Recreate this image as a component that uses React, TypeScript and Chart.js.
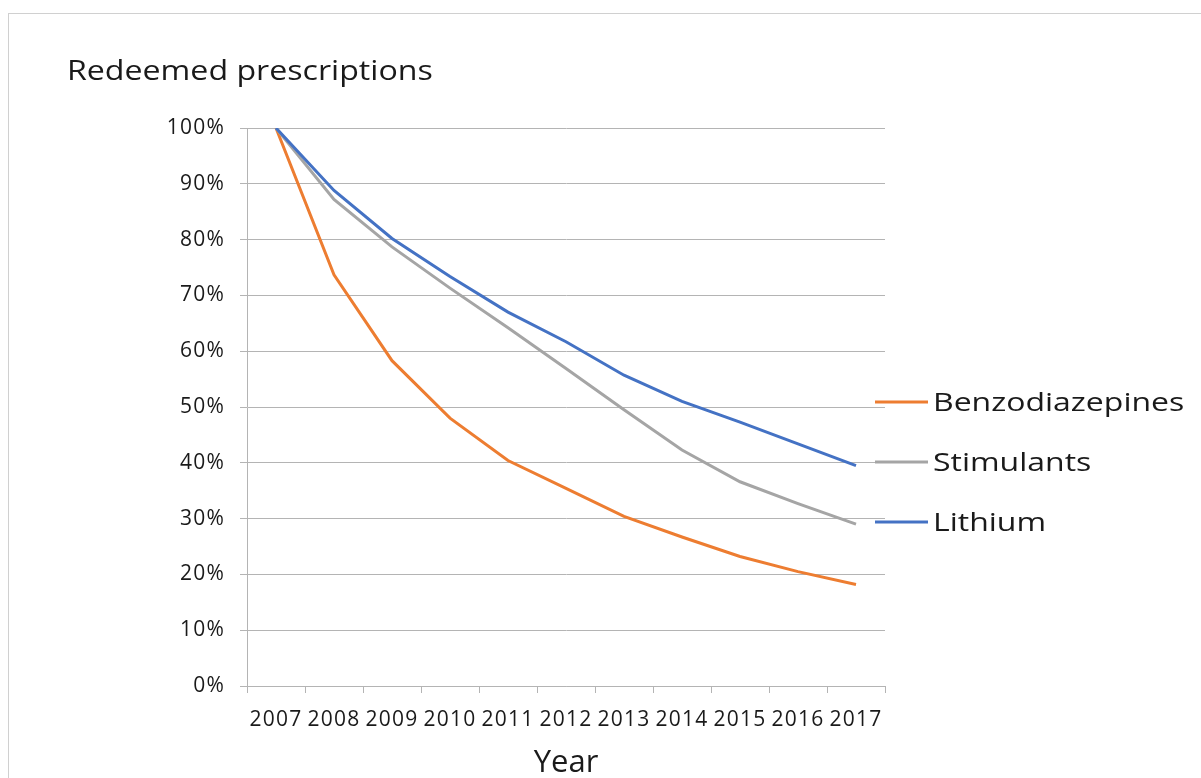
import React, { useEffect, useRef } from "react";
import { Chart, registerables } from "chart.js";

Chart.register(...registerables);

const years = ["2007", "2008", "2009", "2010", "2011", "2012", "2013", "2014", "2015", "2016", "2017"];
const benzodiazepines = [100, 73.7, 58.3, 48.0, 40.4, 35.4, 30.4, 26.7, 23.2, 20.5, 18.2];
const stimulants = [100, 87.2, 78.7, 71.3, 64.2, 56.9, 49.5, 42.3, 36.6, 32.7, 29.0];
const lithium = [100, 88.8, 80.2, 73.4, 67.0, 61.7, 55.7, 51.0, 47.3, 43.4, 39.5];
const seriesNames = ["Benzodiazepines", "Stimulants", "Lithium"];
const seriesColors = ["#ED7D31", "#A5A5A5", "#4472C4"];
const chartTitle = "Redeemed prescriptions";
const xTitle = "Year";

const FONT = "'Open Sans', sans-serif";
const GRID = "#b4b4b4";
const TEXT = "#1a1a1a";

function stretchedText(ctx: any, text: string, x: number, y: number, sx: number) {
  ctx.save();
  ctx.translate(x, y);
  ctx.scale(sx, 1);
  ctx.fillText(text, 0, 0);
  ctx.restore();
}

const sideLegend = {
  id: "sideLegend",
  beforeDraw(chart: any) {
    chart.ctx.letterSpacing = "1.2px";
  },
  afterDraw(chart: any) {
    const ctx = chart.ctx;
    ctx.save();
    ctx.letterSpacing = "0px";
    ctx.fillStyle = TEXT;
    ctx.textBaseline = "alphabetic";
    ctx.textAlign = "left";
    // chart title
    ctx.font = `27px ${FONT}`;
    stretchedText(ctx, chartTitle, 67, 80, 1.19);
    // x axis title
    ctx.font = `31px ${FONT}`;
    ctx.textAlign = "center";
    const xs = chart.scales.x;
    ctx.fillText(xTitle, (xs.left + xs.right) / 2, 772);
    // legend
    ctx.textAlign = "left";
    const rows = [402, 462, 522];
    chart.data.datasets.forEach((ds: any, i: number) => {
      const y = rows[i];
      ctx.strokeStyle = ds.borderColor;
      ctx.lineWidth = 3;
      ctx.beginPath();
      ctx.moveTo(875, y);
      ctx.lineTo(928, y);
      ctx.stroke();
      ctx.fillStyle = TEXT;
      ctx.font = `26px ${FONT}`;
      stretchedText(ctx, ds.label, 933, y + 9, 1.23);
    });
    ctx.restore();
    ctx.letterSpacing = "0px";
  },
};

export default function App() {
  const ref = useRef<HTMLCanvasElement | null>(null);
  useEffect(() => {
    if (!ref.current) return;
    const data = [benzodiazepines, stimulants, lithium];
    const chart = new Chart(ref.current, {
      type: "line",
      data: {
        labels: years,
        datasets: seriesNames.map((name, i) => ({
          label: name,
          data: data[i],
          borderColor: seriesColors[i],
          backgroundColor: seriesColors[i],
          borderWidth: 3,
          pointRadius: 0,
          tension: 0,
          order: 2 - i,
        })),
      },
      options: {
        animation: false,
        responsive: false,
        layout: { padding: { top: 128, right: 316, left: 0, bottom: 0 } },
        plugins: { legend: { display: false }, tooltip: { enabled: false }, title: { display: false } },
        scales: {
          x: {
            offset: true,
            grid: { offset: true, drawOnChartArea: false, drawTicks: true, tickLength: 7, color: GRID, tickColor: GRID },
            border: { color: GRID, width: 1 },
            ticks: { color: TEXT, font: { family: FONT, size: 21 }, padding: 14, maxRotation: 0, autoSkip: false },
            title: { display: false, text: xTitle },
            afterFit: (s: any) => { s.height = 92; },
          },
          y: {
            min: 0,
            max: 100,
            grid: { color: GRID, tickColor: GRID, tickLength: 7, drawTicks: true },
            border: { color: GRID, width: 1 },
            ticks: { stepSize: 10, color: TEXT, font: { family: FONT, size: 21 }, padding: 15, callback: (v: any) => `${v}%` },
            afterFit: (s: any) => { s.width = 247; },
          },
        },
      },
      plugins: [sideLegend],
    });
    return () => chart.destroy();
  }, []);
  return (
    <div style={{ position: "fixed", left: 0, top: 0, width: 1201, height: 778, overflow: "hidden", background: "#fff" }}>
      <div style={{ position: "absolute", left: 8, top: 13, width: 1300, height: 900, border: "1px solid #d0d0d0" }} />
      <canvas ref={ref} width={1201} height={778} style={{ position: "absolute", left: 0, top: 0 }} />
    </div>
  );
}
